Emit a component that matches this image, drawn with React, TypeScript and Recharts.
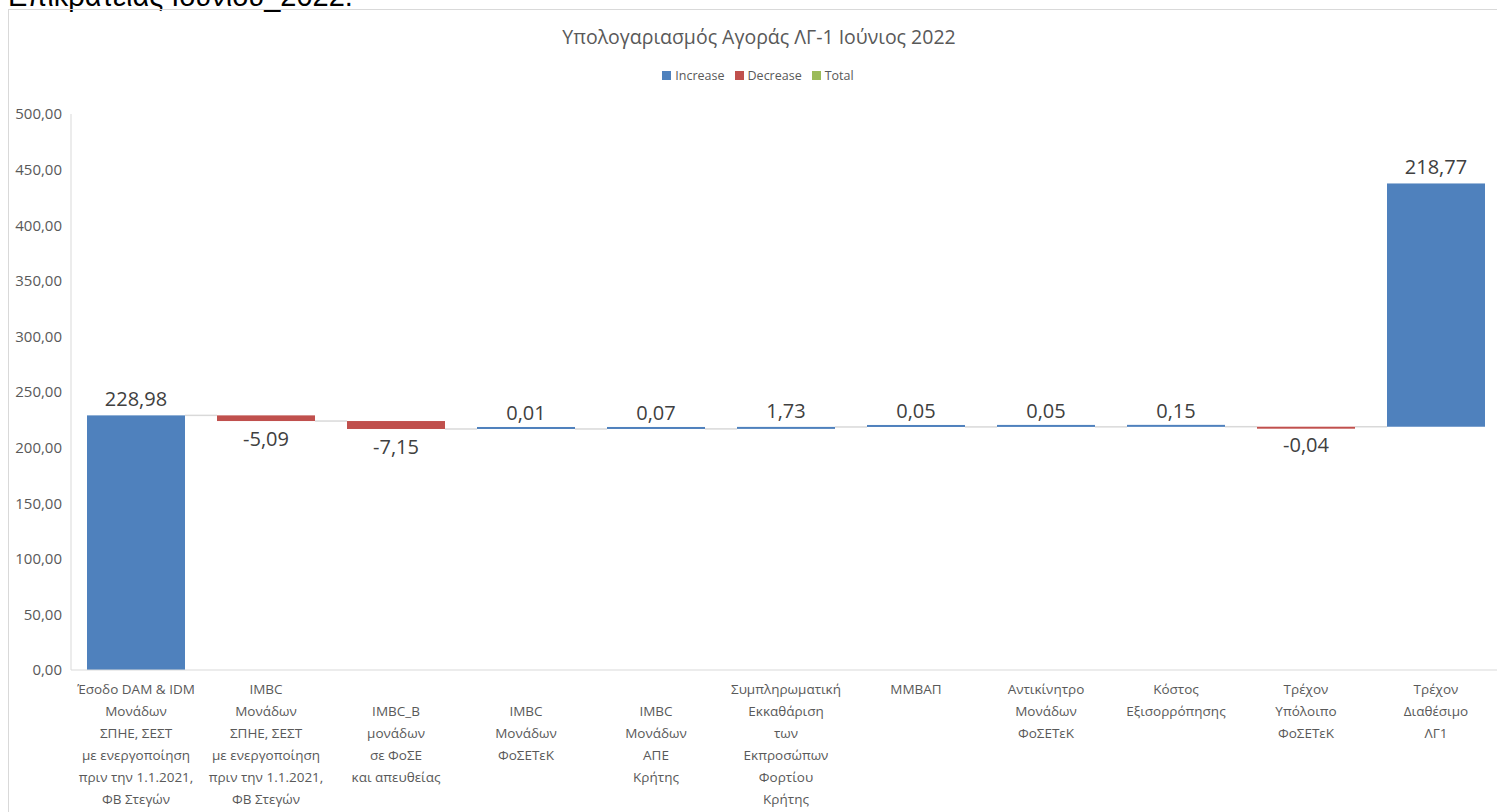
import React from "react";
import { ComposedChart, Bar, XAxis, YAxis, Legend, LabelList } from "recharts";

const categories = [
  "Έσοδο DAM & IDM\nΜονάδων\nΣΠΗΕ, ΣΕΣΤ\nμε ενεργοποίηση\nπριν την 1.1.2021,\nΦΒ Στεγών",
  "IMBC\nΜονάδων\nΣΠΗΕ, ΣΕΣΤ\nμε ενεργοποίηση\nπριν την 1.1.2021,\nΦΒ Στεγών",
  "\nIMBC_B\nμονάδων\nσε ΦοΣΕ\nκαι απευθείας",
  "\nIMBC\nΜονάδων\nΦοΣΕΤεΚ",
  "\nIMBC\nΜονάδων\nΑΠΕ\nΚρήτης",
  "Συμπληρωματική\nΕκκαθάριση\nτων\nΕκπροσώπων\nΦορτίου\nΚρήτης",
  "ΜΜΒΑΠ",
  "Αντικίνητρο\nΜονάδων\nΦοΣΕΤεΚ",
  "Κόστος\nΕξισορρόπησης",
  "Τρέχον\nΥπόλοιπο\nΦοΣΕΤεΚ",
  "Τρέχον\nΔιαθέσιμο\nΛΓ1",
];

// change per step (last one is the total, drawn on top like Excel did)
const changes = [228.98, -5.09, -7.15, 0.01, 0.07, 1.73, 0.05, 0.05, 0.15, -0.04, 218.77];

const yTicks = [0, 50, 100, 150, 200, 250, 300, 350, 400, 450, 500];

const legendOrder = ["Increase", "Decrease", "Total"];

const BLUE = "#4F81BD";
const RED = "#C0504D";
const GREEN = "#9BBB59";
const TEXT = "#595959";
const AXIS = "#D9D9D9";

const CHART_W = 1510;
const CHART_H = 820;
const MARGIN = { top: 104, right: 18, bottom: 10, left: 0 };
const Y_W = 62;
const BAR = 98;
const PLOT_W = CHART_W - MARGIN.left - MARGIN.right - Y_W;
const GAP = PLOT_W / categories.length - BAR;

let running = 0;
const data = categories.map((name, i) => {
  const v = changes[i];
  const base = v >= 0 ? running : running + v;
  running += v;
  return {
    name,
    base,
    increase: v >= 0 ? v : 0,
    decrease: v < 0 ? -v : 0,
    total: 0,
  };
});

const fmt = (v: number) => v.toFixed(2).replace(".", ",");

const makeShape = (kind: "inc" | "dec", color: string) => (props: any) => {
  const { x, y, width, height, index } = props;
  const v = changes[index];
  if (kind === "inc" ? v < 0 : v >= 0) return null;
  const h = Math.max(Math.abs(height), 2);
  const top = kind === "inc" ? y + height - h : y;
  const level = kind === "inc" ? y : y + height;
  return (
    <g>
      <rect x={x} y={top} width={width} height={h} fill={color} />
      {index < categories.length - 1 && (
        <line x1={x + width} x2={x + width + GAP} y1={level} y2={level} stroke={AXIS} strokeWidth={1.5} />
      )}
    </g>
  );
};

const IncLabel = (props: any) => {
  const { x, y, width, value } = props;
  if (!value) return null;
  return (
    <text x={x + width / 2} y={y - 9} textAnchor="middle" fill="#404040" fontSize={20}>
      {fmt(value)}
    </text>
  );
};

const DecLabel = (props: any) => {
  const { x, y, width, height, value } = props;
  if (!value) return null;
  return (
    <text x={x + width / 2} y={y + height + 25} textAnchor="middle" fill="#404040" fontSize={20}>
      {"-" + fmt(value)}
    </text>
  );
};

const CategoryTick = (props: any) => {
  const { x, y, payload } = props;
  const lines = String(payload.value).split("\n");
  return (
    <text textAnchor="middle" fill={TEXT} fontSize={13.5}>
      {lines.map((l, i) =>
        l ? (
          <tspan key={i} x={x} y={y + 16 + i * 22}>
            {l}
          </tspan>
        ) : null
      )}
    </text>
  );
};

export default function App() {
  return (
    <div
      style={{
        position: "fixed",
        left: 0,
        top: 0,
        width: 1497,
        height: 812,
        overflow: "hidden",
        background: "#fff",
        fontFamily: "'Open Sans', sans-serif",
      }}
    >
      <div
        style={{
          position: "absolute",
          left: 8,
          top: -18,
          fontFamily: "'Liberation Sans', Arial, sans-serif",
          fontSize: 29,
          lineHeight: "29px",
          color: "#000",
          whiteSpace: "nowrap",
        }}
      >
        Επικρατείας Ιουνίου_2022.
      </div>
      <div
        style={{
          position: "absolute",
          left: 8,
          top: 9,
          width: CHART_W,
          height: CHART_H,
          border: "1px solid " + AXIS,
        }}
      >
        <div
          style={{
            position: "absolute",
            left: 530,
            top: 13,
            width: 440,
            textAlign: "center",
            fontSize: 19.5,
            color: TEXT,
            whiteSpace: "nowrap",
          }}
        >
          Υπολογαριασμός Αγοράς ΛΓ-1 Ιούνιος 2022
        </div>
        <ComposedChart width={CHART_W} height={CHART_H} data={data} margin={MARGIN} barSize={BAR}>
          <XAxis
            dataKey="name"
            interval={0}
            tickLine={false}
            axisLine={{ stroke: AXIS }}
            height={150}
            tick={<CategoryTick />}
          />
          <YAxis
            width={Y_W}
            domain={[0, 500]}
            ticks={yTicks}
            tickLine={false}
            tickMargin={3}
            axisLine={{ stroke: AXIS }}
            tick={{ fill: TEXT, fontSize: 15 }}
            tickFormatter={fmt}
          />
          <Legend
            verticalAlign="middle"
            align="center"
            iconType="square"
            iconSize={9}
            itemSorter={(item: any) => legendOrder.indexOf(item.value)}
            wrapperStyle={{ top: 53, left: 0, width: 1508 }}
            formatter={(v: string) => <span style={{ color: TEXT, fontSize: 12.5 }}>{v}</span>}
          />
          <Bar dataKey="base" stackId="w" fill="transparent" legendType="none" barSize={BAR} isAnimationActive={false} />
          <Bar
            dataKey="increase"
            name="Increase"
            stackId="w"
            fill={BLUE}
            barSize={BAR}
            shape={makeShape("inc", BLUE)}
            isAnimationActive={false}
          >
            <LabelList dataKey="increase" content={<IncLabel />} />
          </Bar>
          <Bar
            dataKey="decrease"
            name="Decrease"
            stackId="w"
            fill={RED}
            barSize={BAR}
            shape={makeShape("dec", RED)}
            isAnimationActive={false}
          >
            <LabelList dataKey="decrease" content={<DecLabel />} />
          </Bar>
          <Bar dataKey="total" name="Total" stackId="w" fill={GREEN} barSize={BAR} isAnimationActive={false} />
        </ComposedChart>
      </div>
    </div>
  );
}
